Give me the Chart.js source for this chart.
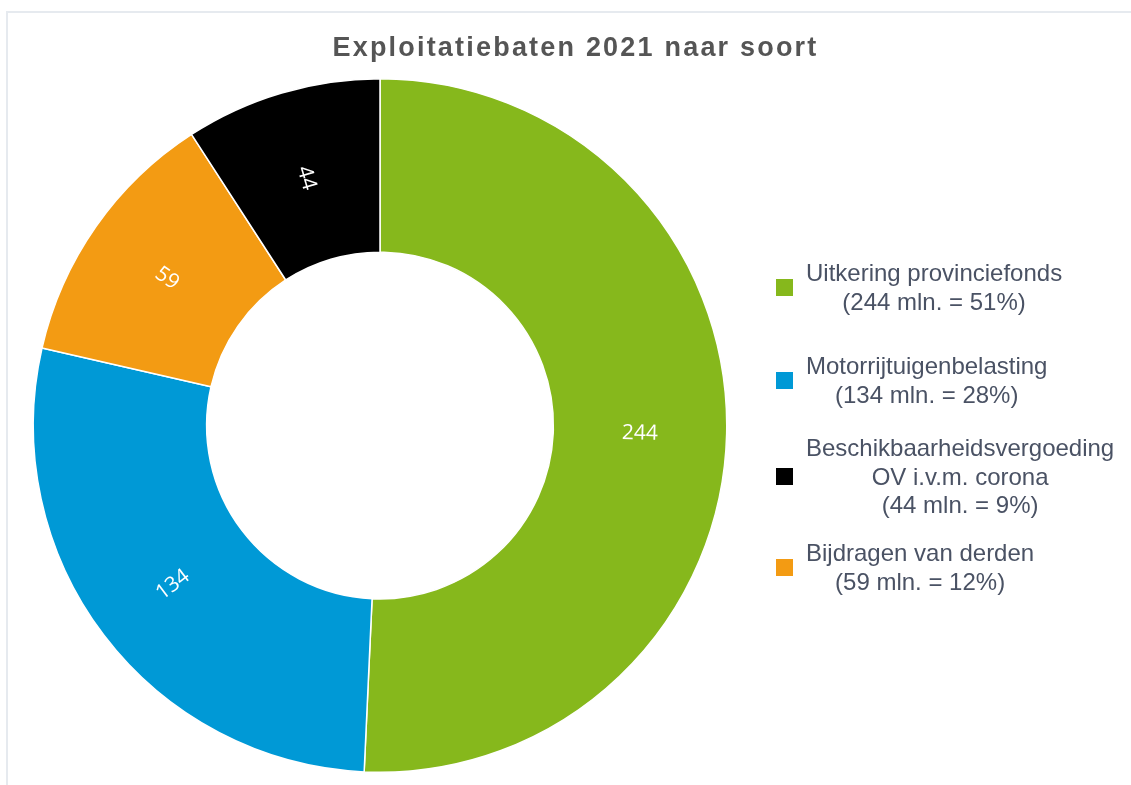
<!DOCTYPE html>
<html>
<head>
<meta charset="utf-8">
<script src="https://cdn.jsdelivr.net/npm/chart.js@4"></script>
<style>
  html, body { margin: 0; padding: 0; background: #fff; }
  body { width: 1131px; height: 785px; position: relative; overflow: hidden; }
  #frame { position: absolute; left: 6px; top: 11px; right: -10px; bottom: -10px;
           border-left: 2px solid #e6eaef; border-top: 2px solid #e6eaef; }
  #title { position: absolute; left: 10px; width: 1131px; top: 32px; text-align: center;
           font: bold 27px "Liberation Sans", Arial, sans-serif; letter-spacing: 2.2px; color: #555; }
  #chartBox { position: absolute; left: 0; top: 0; width: 1131px; height: 785px; }
  #legend { position: absolute; left: 776px; top: 0; }
  .item { position: absolute; left: 0; display: flex; align-items: center; white-space: nowrap; }
  .box { width: 17px; height: 17px; margin-right: 13px; flex: none; }
  .txt { text-align: center; font: 24px "Liberation Sans", Arial, sans-serif; line-height: 28.5px; color: #4a5264; }
</style>
</head>
<body>
<div id="frame"></div>
<div id="chartBox"><canvas id="pie"></canvas></div>
<div id="title">Exploitatiebaten 2021 naar soort</div>
<div id="legend"></div>
<script>
// slices, clockwise from the top
const categories = ['Uitkering provinciefonds', 'Motorrijtuigenbelasting', 'Bijdragen van derden', 'Beschikbaarheidsvergoeding OV i.v.m. corona'];
const values = [244, 134, 59, 44];
const colors = ['#86b81c', '#0099d6', '#f39b13', '#000000'];

// legend order and text
const legendOrder = [0, 1, 3, 2];
const legendLines = [
    ['Uitkering provinciefonds', '(244 mln. = 51%)'],
    ['Motorrijtuigenbelasting', '(134 mln. = 28%)'],
    ['Bijdragen van derden', '(59 mln. = 12%)'],
    ['Beschikbaarheidsvergoeding', 'OV i.v.m. corona', '(44 mln. = 9%)']
];

// labels inside the ring, turned along the radius
const sliceLabels = {
    id: 'sliceLabels',
    afterDatasetsDraw(chart) {
        const ctx = chart.ctx;
        const meta = chart.getDatasetMeta(0);
        ctx.save();
        ctx.fillStyle = '#fff';
        ctx.font = '21px "Open Sans", sans-serif';
        ctx.textAlign = 'center';
        ctx.textBaseline = 'middle';
        meta.data.forEach((arc, i) => {
            const p = arc.getProps(['x', 'y', 'startAngle', 'endAngle', 'innerRadius', 'outerRadius'], true);
            const a = (p.startAngle + p.endAngle) / 2;
            const r = (p.innerRadius + p.outerRadius) / 2;
            let rot = a;
            if (Math.cos(a) < 0) rot += Math.PI;
            ctx.save();
            ctx.translate(p.x + Math.cos(a) * r, p.y + Math.sin(a) * r + 2);
            ctx.rotate(rot);
            ctx.fillText(String(values[i]), 0, 0);
            ctx.restore();
        });
        ctx.restore();
    }
};

var ctx = document.getElementById('pie').getContext('2d');

var chart = new Chart(ctx, {
    type: 'doughnut',
    data: {
        labels: categories,
        datasets: [{
            data: values,
            backgroundColor: colors,
            borderColor: '#ffffff',
            borderWidth: 1.5
        }]
    },
    options: {
        responsive: true,
        maintainAspectRatio: false,
        animation: false,
        cutout: '50%',
        layout: { padding: { left: 32, right: 403, top: 78, bottom: 12 } },
        plugins: {
            legend: { display: false },
            tooltip: { enabled: false }
        }
    },
    plugins: [sliceLabels]
});

// html legend
const legendTops = [259, 352, 434, 539];
const legend = document.getElementById('legend');
legendOrder.forEach((idx, k) => {
    const item = document.createElement('div');
    item.className = 'item';
    item.style.top = legendTops[k] + 'px';
    const box = document.createElement('div');
    box.className = 'box';
    box.style.background = colors[idx];
    const txt = document.createElement('div');
    txt.className = 'txt';
    txt.innerHTML = legendLines[idx].join('<br>');
    item.appendChild(box);
    item.appendChild(txt);
    legend.appendChild(item);
});
</script>
</body>
</html>
